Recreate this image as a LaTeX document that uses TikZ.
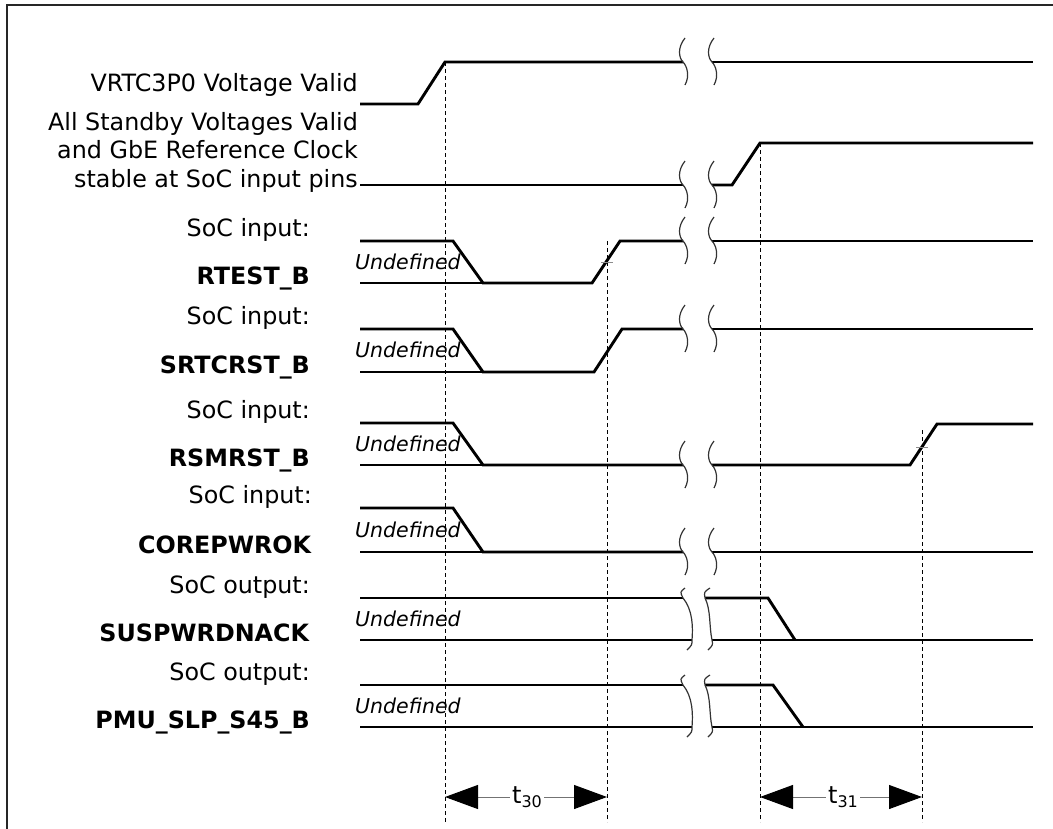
\documentclass[tikz,border=0pt]{standalone}
\usepackage{fontspec}
\setmainfont{DejaVu Sans}
\usetikzlibrary{arrows.meta}
\begin{document}
\begin{tikzpicture}[x=1pt,y=-1pt,
  sig/.style={line width=2.9pt, line join=miter, line cap=butt},
  brkline/.style={line width=1.2pt, draw=black!80},
  guide/.style={line width=1pt, dash pattern=on 4pt off 3pt},
  lbl/.style={anchor=base east, inner sep=0pt, font=\fontsize{23.8}{28}\selectfont},
  undef/.style={anchor=west, inner sep=0pt, font=\fontsize{20.5}{24}\selectfont\itshape},
  tick/.style={line width=0.8pt, draw=black!45},
  dimline/.style={line width=1pt, draw=black!55, -{Triangle[length=33pt,width=24pt,color=black]}},
  tlbl/.style={inner sep=2pt, font=\fontsize{24}{28}\selectfont},
  brk/.pic={\draw[brkline] (2,-24) .. controls (-6,-14) and (-4,-4) .. (0,0) .. controls (4,4) and (7,14) .. (2,23);},
  tallbrkA/.pic={\draw[brkline] (2,-10) .. controls (-3,-6) .. (0,0) .. controls (10,12) and (10,30) .. (9,42) .. controls (9,47) .. (4,52);},
  tallbrkB/.pic={\draw[brkline] (5,-10) .. controls (-1,-6) .. (0,0) .. controls (6,12) and (4,28) .. (7,42) .. controls (8,47) .. (3,52);}
]
\useasboundingbox (0,0) rectangle (1053,828);
% frame
\draw[line width=2.2pt, black!85] (7,830) -- (7,5) -- (1055,5);

% labels
\node[lbl] (l1) at (358,91) {VRTC3P0 Voltage Valid};
\node[lbl] (l2a) at (358,130) {All Standby Voltages Valid};
\node[lbl] (l2b) at (358,158.5) {and GbE Reference Clock};
\node[lbl] (l2c) at (358,187) {stable at SoC input pins};
\node[lbl] (l3a) at (310,236) {SoC input:};
\node[lbl] (l3b) at (310,284) {\textbf{RTEST\_B}};
\node[lbl] (l4a) at (310,324) {SoC input:};
\node[lbl] (l4b) at (310,373) {\textbf{SRTCRST\_B}};
\node[lbl] (l5a) at (310,418) {SoC input:};
\node[lbl] (l5b) at (310,466) {\textbf{RSMRST\_B}};
\node[lbl] (l6a) at (312,503) {SoC input:};
\node[lbl] (l6b) at (312,553) {\textbf{COREPWROK}};
\node[lbl] (l7a) at (310,593) {SoC output:};
\node[lbl] (l7b) at (310,641) {\textbf{SUSPWRDNACK}};
\node[lbl] (l8a) at (310,680) {SoC output:};
\node[lbl] (l8b) at (310,728) {\textbf{PMU\_SLP\_S45\_B}};

% Undefined texts
\node[undef] (u3) at (355,262) {Undefined};
\node[undef] (u4) at (355,350) {Undefined};
\node[undef] (u5) at (355,444) {Undefined};
\node[undef] (u6) at (355,530) {Undefined};
\node[undef] (u7) at (355,619) {Undefined};
\node[undef] (u8) at (355,706) {Undefined};

% guide lines
\draw[guide] (445,62) -- (445,822);
\draw[guide] (607,241) -- (607,822);
\draw[guide] (760,143) -- (760,822);
\draw[guide] (922,430) -- (922,822);

% signal 1
\draw[sig] (360,104) -- (418,104) -- (445,62) -- (683,62);
\draw[sig] (712,62) -- (1033,62);
\pic at (683,62) {brk}; \pic at (712,62) {brk};
% signal 2
\draw[sig] (360,185) -- (683,185);
\draw[sig] (712,185) -- (732,185) -- (760,143) -- (1033,143);
\pic at (683,185) {brk}; \pic at (712,185) {brk};
% signal 3
\draw[sig] (360,241) -- (453,241) -- (483,283) -- (592,283) -- (620,241) -- (683,241);
\draw[sig] (360,283) -- (483,283);
\draw[sig] (712,241) -- (1033,241);
\pic at (683,241) {brk}; \pic at (712,241) {brk};
% signal 4
\draw[sig] (360,329) -- (453,329) -- (483,372) -- (594,372) -- (622,329) -- (683,329);
\draw[sig] (360,372) -- (483,372);
\draw[sig] (712,329) -- (1033,329);
\pic at (683,329) {brk}; \pic at (712,329) {brk};
% signal 5
\draw[sig] (360,423) -- (453,423) -- (483,465) -- (683,465);
\draw[sig] (360,465) -- (483,465);
\draw[sig] (712,465) -- (910,465) -- (937,424) -- (1033,424);
\pic at (683,465) {brk}; \pic at (712,465) {brk};
% signal 6
\draw[sig] (360,508) -- (453,508) -- (483,552) -- (683,552);
\draw[sig] (360,552) -- (483,552);
\draw[sig] (712,552) -- (1033,552);
\pic at (683,552) {brk}; \pic at (712,552) {brk};
% signal 7
\draw[sig] (360,598) -- (683,598);
\draw[sig] (360,640) -- (692,640);
\draw[sig] (705,598) -- (768,598) -- (795,640);
\draw[sig] (712,640) -- (1033,640);
\pic at (683,598) {tallbrkA}; \pic at (705,598) {tallbrkB};
% signal 8
\draw[sig] (360,685) -- (683,685);
\draw[sig] (360,727) -- (692,727);
\draw[sig] (705,685) -- (773,685) -- (803,727);
\draw[sig] (712,727) -- (1033,727);
\pic at (683,685) {tallbrkA}; \pic at (705,685) {tallbrkB};

% crossing ticks
\draw[tick] (601,262) -- (613,262);
\draw[tick] (916,447) -- (928,447);

% timing dimensions
\coordinate (a30l) at (445,797);
\coordinate (a30r) at (607,797);
\coordinate (a31l) at (760,797);
\coordinate (a31r) at (922,797);
\node[tlbl] (t30) at (527,797) {t\raisebox{-0.35ex}{\fontsize{16}{16}\selectfont 30}};
\node[tlbl] (t31) at (843,797) {t\raisebox{-0.35ex}{\fontsize{16}{16}\selectfont 31}};
\draw[dimline] (t30.west) -- (a30l);
\draw[dimline] (t30.east) -- (a30r);
\draw[dimline] (t31.west) -- (a31l);
\draw[dimline] (t31.east) -- (a31r);
\end{tikzpicture}
\end{document}
